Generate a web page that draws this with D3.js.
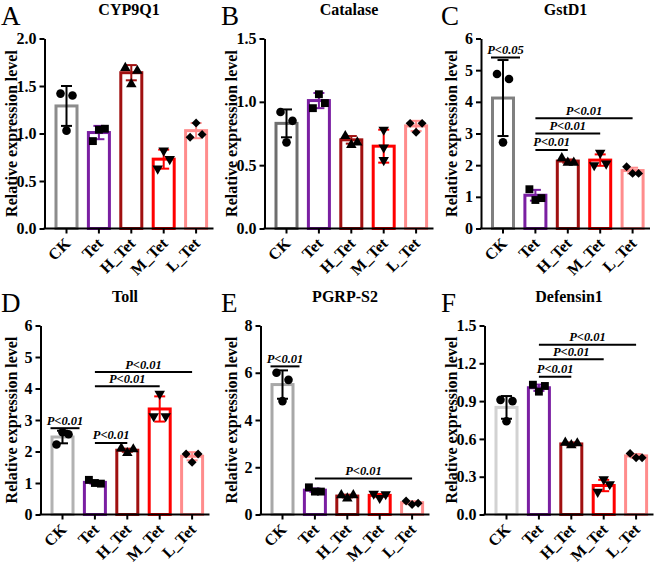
<!DOCTYPE html>
<html><head><meta charset="utf-8">
<script src="https://cdn.jsdelivr.net/npm/d3@7"></script>
<style>body{margin:0;background:#fff} svg{display:block}</style>
</head><body><svg id="c" width="661" height="568"></svg>
<script>
// ---------------- DATA ----------------
const categories = ["CK","Tet","H_Tet","M_Tet","L_Tet"];
const genes = ["CYP9Q1","Catalase","GstD1","Toll","PGRP-S2","Defensin1"];
const panelLetters = ["A","B","C","D","E","F"];

const cyp9q1Mean   = [1.29, 1.01, 1.64, 0.73, 1.03];
const cyp9q1SD     = [0.21, 0.07, 0.08, 0.10, 0.08];
const cyp9q1Points = [[1.42,1.03,1.40],[0.92,1.04,1.05],[1.69,1.52,1.66],[0.63,0.82,0.73],[0.96,1.11,0.99]];
const cyp9q1Ticks  = [0, 0.5, 1.0, 1.5, 2.0];
const cyp9q1Sig    = [];

const catalaseMean   = [0.83, 1.01, 0.70, 0.65, 0.81];
const catalaseSD     = [0.11, 0.06, 0.03, 0.13, 0.04];
const catalasePoints = [[0.92,0.68,0.85],[0.95,1.06,0.99],[0.73,0.66,0.68],[0.78,0.64,0.54],[0.83,0.76,0.83]];
const catalaseTicks  = [0, 0.5, 1.0, 1.5];
const catalaseSig    = [];

const gstd1Mean   = [4.12, 1.05, 2.13, 2.16, 1.83];
const gstd1SD     = [1.20, 0.17, 0.05, 0.18, 0.09];
const gstd1Points = [[4.88,2.72,4.72],[1.24,0.90,0.96],[2.22,2.08,2.08],[2.00,2.39,2.05],[1.95,1.74,1.74]];
const gstd1Ticks  = [0, 1, 2, 3, 4, 5, 6];
const gstd1Sig    = [
  {from:"CK",  to:"CK",    level:5.40, label:"P<0.05"},
  {from:"Tet", to:"H_Tet", level:2.48, label:"P<0.01"},
  {from:"Tet", to:"M_Tet", level:3.00, label:"P<0.01"},
  {from:"Tet", to:"L_Tet", level:3.48, label:"P<0.01"}
];

const tollMean   = [2.46, 1.02, 2.04, 3.35, 1.85];
const tollSD     = [0.20, 0.04, 0.05, 0.40, 0.13];
const tollPoints = [[2.22,2.61,2.55],[1.10,1.00,0.98],[2.10,1.95,2.07],[3.12,3.83,3.12],[1.92,1.66,1.92]];
const tollTicks  = [0, 1, 2, 3, 4, 5, 6];
const tollSig    = [
  {from:"CK",  to:"CK",    level:2.74, label:"P<0.01"},
  {from:"Tet", to:"H_Tet", level:2.27, label:"P<0.01"},
  {from:"Tet", to:"M_Tet", level:4.07, label:"P<0.01"},
  {from:"Tet", to:"L_Tet", level:4.52, label:"P<0.01"}
];

const pgrpMean   = [5.50, 1.03, 0.78, 0.81, 0.50];
const pgrpSD     = [0.60, 0.07, 0.06, 0.06, 0.06];
const pgrpPoints = [[6.00,4.80,5.70],[1.15,0.97,0.97],[0.82,0.68,0.82],[0.88,0.70,0.86],[0.57,0.42,0.48]];
const pgrpTicks  = [0, 2, 4, 6, 8];
const pgrpSig    = [
  {from:"CK",  to:"CK",    level:6.27, label:"P<0.01"},
  {from:"Tet", to:"L_Tet", level:1.52, label:"P<0.01"}
];

const defensinMean   = [0.85, 1.006, 0.56, 0.23, 0.465];
const defensinSD     = [0.09, 0.025, 0.012, 0.045, 0.015];
const defensinPoints = [[0.91,0.74,0.90],[1.03,0.975,1.02],[0.57,0.55,0.565],[0.18,0.28,0.24],[0.485,0.45,0.45]];
const defensinTicks  = [0, 0.3, 0.6, 0.9, 1.2, 1.5];
const defensinSig    = [
  {from:"Tet", to:"H_Tet", level:1.094, label:"P<0.01"},
  {from:"Tet", to:"M_Tet", level:1.233, label:"P<0.01"},
  {from:"Tet", to:"L_Tet", level:1.347, label:"P<0.01"}
];

// ---------------- STYLE / LAYOUT ----------------
const FONT = "'Liberation Serif','Times New Roman',serif";
const groupColors = ["#888888","#7a1fa2","#a01010","#ff0000","#ff8c8c"];
const ckColors = ["#8c8c8c","#6e6e6e","#808080","#b2b2b2","#a8a8a8","#d2d2d2"];
const shapes = ["circle","square","triangle","triangleDown","diamond"];

const panels = [
  {mean:cyp9q1Mean, sd:cyp9q1SD, pts:cyp9q1Points, ticks:cyp9q1Ticks, sig:cyp9q1Sig, fmt:".1f", px:0,   axisX:44.5,  top:38.5,  bottom:228.5},
  {mean:catalaseMean, sd:catalaseSD, pts:catalasePoints, ticks:catalaseTicks, sig:catalaseSig, fmt:".1f", px:220, axisX:264.5, top:38.5,  bottom:228.5},
  {mean:gstd1Mean, sd:gstd1SD, pts:gstd1Points, ticks:gstd1Ticks, sig:gstd1Sig, fmt:"d", px:440, axisX:481,   top:38.5,  bottom:228.5},
  {mean:tollMean, sd:tollSD, pts:tollPoints, ticks:tollTicks, sig:tollSig, fmt:"d", px:0,   axisX:40.5,  top:325.5, bottom:514.5},
  {mean:pgrpMean, sd:pgrpSD, pts:pgrpPoints, ticks:pgrpTicks, sig:pgrpSig, fmt:"d", px:220, axisX:260.5, top:325.5, bottom:514.5},
  {mean:defensinMean, sd:defensinSD, pts:defensinPoints, ticks:defensinTicks, sig:defensinSig, fmt:".1f", px:440, axisX:484.5, top:325.5, bottom:514.5}
];

const svg = d3.select("#c");

function symbolPath(shape){
  if (shape==="circle") return d3.symbol(d3.symbolCircle, 58)();
  if (shape==="square") return d3.symbol(d3.symbolSquare, 62)();
  if (shape==="triangle") return d3.symbol(d3.symbolTriangle, 48)();
  if (shape==="triangleDown") return d3.symbol(d3.symbolTriangle, 48)();
  return d3.symbol(d3.symbolSquare, 40)();
}
function symbolRotate(shape){
  if (shape==="triangleDown") return 180;
  if (shape==="diamond") return 45;
  return 0;
}

function jitter(vals, y){
  const idx = vals.map((v,i)=>i).sort((a,b)=>vals[a]-vals[b]);
  const clusters = [];
  let cur = [];
  idx.forEach(i=>{
    if (cur.length && Math.abs(y(vals[cur[cur.length-1]]) - y(vals[i])) < 12) cur.push(i);
    else { if (cur.length) clusters.push(cur); cur=[i]; }
  });
  if (cur.length) clusters.push(cur);
  const off = new Array(vals.length).fill(0);
  clusters.forEach(c=>{
    c.sort((a,b)=>a-b);
    const k=c.length;
    c.forEach((i,j)=>{ off[i] = k===1?0:(-6 + j*12/(k-1)); });
  });
  return off;
}

panels.forEach((p, pi)=>{
  const g = svg.append("g");
  const ymax = p.ticks[p.ticks.length-1];
  const y = d3.scaleLinear().domain([0, ymax]).range([p.bottom, p.top]);
  const step = 32.4;
  const x = d3.scaleBand().domain(categories).range([p.axisX+5.8, p.axisX+5.8+5*step]).padding(0);
  const cx = c => x(c) + x.bandwidth()/2;
  const axisEnd = p.axisX + 169;
  const colors = groupColors.map((c,i)=> i===0 ? ckColors[pi] : c);

  // panel letter
  g.append("text").attr("x", p.px+1).attr("y", p.top-13.5)
    .attr("font-family", FONT).attr("font-size", 27).text(panelLetters[pi]);
  // title
  g.append("text").attr("x", (p.axisX+axisEnd)/2).attr("y", p.top-24)
    .attr("text-anchor","middle").attr("font-family", FONT).attr("font-weight","bold")
    .attr("font-size", 16).text(genes[pi]);
  // y title
  g.append("text")
    .attr("transform", `translate(${p.px+11},${(p.top+p.bottom)/2}) rotate(-90)`)
    .attr("text-anchor","middle").attr("dominant-baseline","central")
    .attr("font-family", FONT).attr("font-weight","bold").attr("font-size", 16)
    .text("Relative expression level");

  // bars
  g.selectAll("rect.bar").data(categories).enter().append("rect")
    .attr("x", c => cx(c)-10.5).attr("width", 21)
    .attr("y", (c,i)=> y(p.mean[i])).attr("height", (c,i)=> p.bottom - y(p.mean[i]))
    .attr("fill","#fff").attr("stroke", (c,i)=>colors[i]).attr("stroke-width", 3);

  // error bars
  categories.forEach((c,i)=>{
    const col = i===0 ? "#000" : colors[i];
    const hi = y(p.mean[i]+p.sd[i]), lo = y(p.mean[i]-p.sd[i]);
    const eg = g.append("g").attr("stroke", col).attr("stroke-width", 2);
    eg.append("line").attr("x1",cx(c)).attr("x2",cx(c)).attr("y1",hi).attr("y2",lo);
    eg.append("line").attr("x1",cx(c)-5.5).attr("x2",cx(c)+5.5).attr("y1",hi).attr("y2",hi);
    eg.append("line").attr("x1",cx(c)-5.5).attr("x2",cx(c)+5.5).attr("y1",lo).attr("y2",lo);
  });

  // points
  categories.forEach((c,i)=>{
    const vals = p.pts[i];
    const off = jitter(vals, y);
    g.selectAll(null).data(vals).enter().append("path")
      .attr("d", symbolPath(shapes[i]))
      .attr("transform", (v,j)=>`translate(${cx(c)+off[j]},${y(v)}) rotate(${symbolRotate(shapes[i])})`)
      .attr("fill","#000");
  });

  // y axis
  const ya = g.append("g").attr("transform", `translate(${p.axisX},0)`)
    .call(d3.axisLeft(y).tickValues(p.ticks).tickFormat(d3.format(p.fmt)).tickSize(5).tickSizeOuter(0).tickPadding(3));
  ya.select(".domain").attr("stroke","#000").attr("stroke-width",2);
  ya.selectAll(".tick line").attr("stroke","#000").attr("stroke-width",2);
  ya.selectAll(".tick text").attr("font-family", FONT).attr("font-weight","bold").attr("font-size",16).attr("fill","#000");

  // x axis
  const xa = g.append("g").attr("transform", `translate(0,${p.bottom})`)
    .call(d3.axisBottom(x).tickSize(5).tickSizeOuter(0));
  xa.select(".domain").remove();
  xa.append("line").attr("x1", p.axisX-1).attr("x2", axisEnd).attr("stroke","#000").attr("stroke-width",2);
  xa.selectAll(".tick line").attr("stroke","#000").attr("stroke-width",2);
  xa.selectAll(".tick text")
    .attr("x",0).attr("y",0).attr("dy",null)
    .attr("transform","translate(5,16) rotate(-45)")
    .attr("text-anchor","end")
    .attr("font-family", FONT).attr("font-weight","bold").attr("font-size",16).attr("fill","#000");

  // significance
  p.sig.forEach(s=>{
    let x1, x2;
    if (s.from===s.to){ x1 = cx(s.from)-12; x2 = cx(s.from)+17; }
    else { x1 = cx(s.from); x2 = cx(s.to); }
    const ly = y(s.level);
    g.append("line").attr("x1",x1).attr("x2",x2).attr("y1",ly).attr("y2",ly)
      .attr("stroke","#000").attr("stroke-width",2);
    g.append("text").attr("x",(x1+x2)/2).attr("y",ly-3.5).attr("text-anchor","middle")
      .attr("font-family",FONT).attr("font-weight","bold").attr("font-style","italic")
      .attr("font-size",12.5).text(s.label);
  });
});
</script>
</body></html>
